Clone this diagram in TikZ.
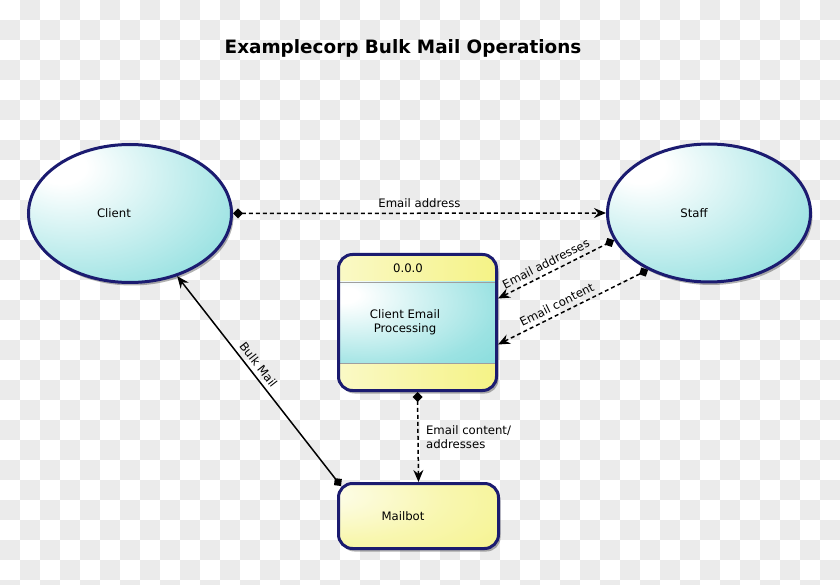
\documentclass[tikz,border=0pt]{standalone}
\usepackage{fontspec}
\setmainfont{DejaVu Sans}
\usetikzlibrary{arrows.meta,shapes.geometric,shadows,calc}
\definecolor{navy}{HTML}{1B1B70}
\definecolor{cyanE}{HTML}{66D3D3}
\definecolor{yelE}{HTML}{F3F070}
\definecolor{checker}{HTML}{EBEBEB}
\pgfdeclareradialshading{cyanball}{\pgfpoint{-18bp}{18bp}}{color(0bp)=(white); color(6bp)=(white); color(40bp)=(cyanE!65!white); color(72bp)=(cyanE); color(100bp)=(cyanE)}
\pgfdeclareradialshading{cyanband}{\pgfpoint{-25bp}{18bp}}{color(0bp)=(white); color(5bp)=(white); color(40bp)=(cyanE!65!white); color(72bp)=(cyanE); color(100bp)=(cyanE)}
\pgfdeclareradialshading{yelball}{\pgfpoint{-32bp}{18bp}}{color(0bp)=(yelE!10!white); color(30bp)=(yelE!55!white); color(75bp)=(yelE); color(100bp)=(yelE)}
\begin{document}
\begin{tikzpicture}[x=1pt,y=1pt,font=\fontsize{11.7}{13.5}\selectfont,
  shadowed/.style={drop shadow={shadow xshift=2pt,shadow yshift=-3pt,opacity=.3,fill=black}},
  ent/.style={ellipse,draw=navy,line width=3pt,minimum width=203pt,minimum height=138pt,shade,shading=cyanball,shadowed},
  procbox/.style={rectangle,rounded corners=14pt,draw=navy,line width=3pt,minimum width=158pt,minimum height=136pt,fill=yelE!65!white,shadowed,
    path picture={
      \shade[sharp corners,left color=yelE!40!white,right color=yelE!85!white] (path picture bounding box.south west) rectangle (path picture bounding box.north east);
      \shade[sharp corners,shading=cyanband] ([yshift=-27.5pt]path picture bounding box.north west) rectangle ([yshift=27.5pt]path picture bounding box.south east);
      \draw[sharp corners,gray!75,line width=.7pt] ([yshift=-27.5pt]path picture bounding box.north west) -- ([yshift=-27.5pt]path picture bounding box.north east);
      \draw[sharp corners,gray!75,line width=.7pt] ([yshift=27.5pt]path picture bounding box.south west) -- ([yshift=27.5pt]path picture bounding box.south east);
    }},
  mailbox/.style={rectangle,rounded corners=14pt,draw=navy,line width=3pt,minimum width=160pt,minimum height=65pt,shade,shading=yelball,shadowed},
  con/.style={line width=1.5pt,black},
  dcon/.style={con,dash pattern=on 4pt off 3pt},
  fwd/.style={{Diamond[length=10pt,width=10pt]}-{Stealth[length=12pt,width=10pt,inset=4pt]}},
  rev/.style={{Stealth[length=12pt,width=10pt,inset=4pt]}-{Diamond[length=10pt,width=10pt]}}
]
\useasboundingbox (0,0) rectangle (840,584);
\fill[white] (0,0) rectangle (840,584);
\foreach \j in {0,2,...,28} \foreach \i in {1,3,...,41} \fill[checker] (\i*20,564-\j*20) rectangle ++(20,20);
\foreach \j in {1,3,...,29} \foreach \i in {0,2,...,40} \fill[checker] (\i*20,564-\j*20) rectangle ++(20,20);

\node[font=\fontsize{18.4}{22}\selectfont\bfseries] (title) at (403,536) {Examplecorp Bulk Mail Operations};

\node[ent] (client) at (130,370.5) {};
\node[ent] (staff) at (709,371) {};
\node[procbox] (proc) at (417.5,261.5) {};
\node[mailbox] (mailbot) at (418.5,68) {};

\node (clientlbl) at ([xshift=-16pt]client.center) {Client};
\node (stafflbl) at ([xshift=-15pt]staff.center) {Staff};
\node (proctop) at (408,316) {0.0.0};
\node[align=center] (proclbl) at (405,261.5) {Client Email\\ Processing};
\node (maillbl) at (403,68) {Mailbot};

\draw[dcon,fwd] (client.east) -- node[above=1pt] {Email address} (staff.west);
\draw[dcon,rev] ($(proc.east)+(0,24)$) -- node[pos=.45,sloped,above=1pt] {Email addresses} (staff.196);
\draw[dcon,rev] ($(proc.east)+(0,-22)$) -- node[pos=.42,sloped,above=1pt] {Email content} (staff.223);
\draw[dcon,fwd] (proc.south) -- node[right=4pt,align=left] {Email content/\\addresses} (mailbot.north);
\draw[con,rev] (client.307) -- node[pos=.45,sloped,above=1pt] {Bulk Mail} ($(mailbot.north west)+(4,-4)$);
\end{tikzpicture}
\end{document}
